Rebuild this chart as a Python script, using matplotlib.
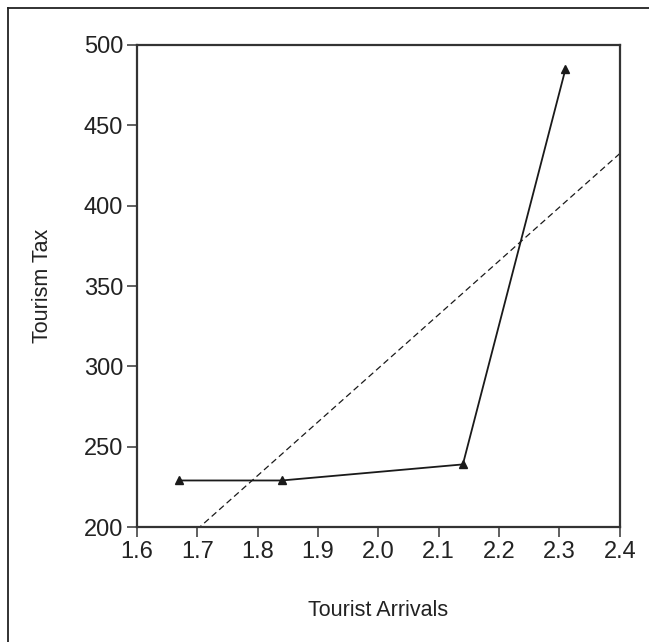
import numpy as np
import matplotlib.pyplot as plt
from matplotlib.lines import Line2D

plt.rcParams['font.family'] = ['Liberation Sans', 'DejaVu Sans']

# data
arrivals = [1.67, 1.84, 2.14, 2.31]
tax = [229, 229, 239, 485]
x_ticks = [1.6, 1.7, 1.8, 1.9, 2.0, 2.1, 2.2, 2.3, 2.4]
y_ticks = [200, 250, 300, 350, 400, 450, 500]

fig = plt.figure(figsize=(6.49, 6.42), dpi=100)
ax = fig.add_axes([0.211, 0.179, 0.744, 0.751])

ax.plot(arrivals, tax, color='#1a1a1a', lw=1.3, marker='^', ms=6,
        markerfacecolor='#1a1a1a', markeredgecolor='#1a1a1a')

# least squares trend line
slope, icpt = np.polyfit(arrivals, tax, 1)
xs = np.array([1.6, 2.4])
ax.plot(xs, slope * xs + icpt, color='#1a1a1a', lw=0.9, ls=(0, (5, 3)))

ax.set_xlim(1.6, 2.4)
ax.set_ylim(200, 500)
ax.set_xticks(x_ticks)
ax.set_xticklabels(['%.1f' % v for v in x_ticks])
ax.set_yticks(y_ticks)
ax.tick_params(direction='out', length=7, width=1.2, color='#444444',
               labelsize=17, pad=3, labelcolor='#222222')
for s in ax.spines.values():
    s.set_color('#333333')
    s.set_linewidth(1.6)

ax.set_xlabel('Tourist Arrivals', fontsize=15.5, color='#222222', labelpad=27)
ax.set_ylabel('Tourism Tax', fontsize=15.5, color='#222222', labelpad=22)

# outer frame (only top and left edges show in the original crop)
fig.add_artist(Line2D([8 / 649, 1], [1 - 8 / 642, 1 - 8 / 642],
                      transform=fig.transFigure, color='#222222', lw=1.3))
fig.add_artist(Line2D([8 / 649, 8 / 649], [0, 1 - 8 / 642],
                      transform=fig.transFigure, color='#222222', lw=1.3))

fig.savefig('out.png', dpi=100)
